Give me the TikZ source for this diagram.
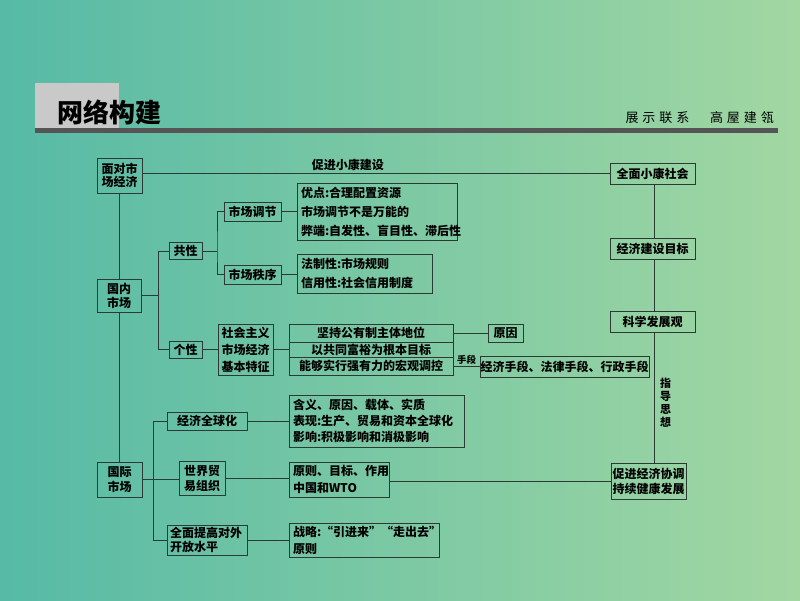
\documentclass[tikz,border=0pt]{standalone}
\usepackage{fontspec}
\setmainfont{Noto Sans CJK SC}
\definecolor{lc}{HTML}{2B3A33}
\definecolor{bgl}{HTML}{56BAA6}
\definecolor{bgr}{HTML}{A2D7A2}
\definecolor{hgray}{HTML}{C9C9C9}
\definecolor{hbar}{HTML}{555555}
\newcommand\myfs[1]{\fontsize{12pt}{#1pt}\selectfont\bfseries}
\tikzset{
  bx/.style={draw=lc, line width=0.9pt, inner sep=0pt, text=black, font=\myfs{14}},
  tbx/.style={bx, align=left, inner xsep=4pt},
  ln/.style={draw=lc, line width=0.9pt},
}
\begin{document}
\begin{tikzpicture}[x=1pt,y=-1pt]
\useasboundingbox (0,0) rectangle (800,600);
\shade[left color=bgl, right color=bgr] (0,0) rectangle (800,600);
% header
\fill[hgray] (35,83) rectangle (119,128);
\fill[hbar] (35,128) rectangle (778,133);
\node[anchor=west, inner sep=0pt, font=\fontsize{26pt}{28pt}\selectfont\bfseries] (title) at (57,112) {网络构建};
\node[anchor=east, inner sep=0pt, font=\fontsize{13pt}{14pt}\selectfont\addfontfeature{LetterSpace=30}] (slogan) at (774,118) {展示联系　高屋建瓴};

% left column
\node[bx, minimum width=45pt, minimum height=35pt, align=center, font=\myfs{13.5}] (mdsc) at (119.5,175.5) {面对市\\场经济};
\node[bx, minimum width=44pt, minimum height=33pt, align=center, font=\myfs{14}] (gnsc) at (119,295.5) {国内\\市场};
\node[bx, minimum width=45pt, minimum height=35pt, align=center, font=\myfs{15}] (gjsc) at (119.5,479.5) {国际\\市场};

% domestic
\node[bx, minimum width=33pt, minimum height=17pt] (gx) at (185.5,251) {共性};
\node[bx, minimum width=33pt, minimum height=17pt] (gex) at (185.5,349.5) {个性};
\node[bx, minimum width=57pt, minimum height=19pt] (tj) at (252.5,211.5) {市场调节};
\node[bx, minimum width=57pt, minimum height=19pt] (zx) at (252.5,274.5) {市场秩序};
\node[tbx, text width=152pt, minimum height=57pt, font=\myfs{19}] (tb1) at (377,211.5) {优点:合理配置资源\\市场调节不是万能的\\弊端:自发性、盲目性、滞后性};
\node[tbx, text width=127pt, minimum height=39pt, font=\myfs{19}] (tb2) at (364.5,273.5) {法制性:市场规则\\信用性:社会信用制度};
\node[bx, minimum width=55pt, minimum height=51pt, align=center, font=\myfs{17}] (tz) at (245.5,349.5) {社会主义\\市场经济\\基本特征};
\node[bx, minimum width=164pt, minimum height=18pt] (r1) at (371,333) {坚持公有制主体地位};
\node[bx, minimum width=164pt, minimum height=15pt] (r2) at (371,349.5) {以共同富裕为根本目标};
\node[bx, minimum width=164pt, minimum height=18pt] (r3) at (371,366) {能够实行强有力的宏观调控};
\node[bx, minimum width=35pt, minimum height=18pt] (yy) at (505.5,333) {原因};
\node[bx, minimum width=169pt, minimum height=21pt] (sd) at (564.5,366.5) {经济手段、法律手段、行政手段};

% international
\node[bx, minimum width=80pt, minimum height=18pt] (qqh) at (207,421) {经济全球化};
\node[bx, minimum width=46pt, minimum height=34pt, align=center, font=\myfs{15}] (wto) at (202,478) {世界贸\\易组织};
\node[tbx, text width=74pt, inner xsep=3pt, minimum height=30pt, font=\myfs{14}] (kf) at (207,540) {全面提高对外\\开放水平};
\node[tbx, text width=167pt, minimum height=52pt, font=\myfs{16}] (tb3) at (376.5,421) {含义、原因、载体、实质\\表现:生产、贸易和资本全球化\\影响:积极影响和消极影响};
\node[tbx, text width=92pt, minimum height=35pt, font=\myfs{17}] (tb4) at (339,479.5) {原则、目标、作用\\中国和WTO};
\node[tbx, text width=142pt, minimum height=34pt, font=\myfs{17}] (tb5) at (364,540) {战略:“引进来”“走出去”\\原则};

% right column
\node[bx, minimum width=85pt, minimum height=21pt] (qm) at (652.5,173.5) {全面小康社会};
\node[bx, minimum width=85pt, minimum height=21pt] (jj) at (652.5,248.5) {经济建设目标};
\node[bx, minimum width=85pt, minimum height=21pt] (kx) at (652.5,321.5) {科学发展观};
\node[bx, minimum width=75pt, minimum height=36pt, align=center, font=\myfs{15}] (cj) at (648.5,481) {促进经济协调\\持续健康发展};
\coordinate (sp) at (654.5,0);
\coordinate (b1) at (158,251);
\coordinate (b2) at (217,251);
\coordinate (b3) at (153,421);

% connectors
\draw[ln] (qm.west -| mdsc.east) -- node[pos=0.44, above=1pt, inner sep=1pt, font=\myfs{14}, text=black] (cjxk) {促进小康建设} (qm.west);
\draw[ln] (mdsc.south -| gnsc.north) -- (gnsc.north);
\draw[ln] (gnsc.south) -- (gjsc.north -| gnsc.south);
\draw[ln] (gx.west) -- (b1) |- (gex.west);
\draw[ln] (gnsc.east) -- (gnsc.east -| b1);
\draw[ln] (gx.east) -- (b2);
\draw[ln] (tj.west) -| (b2) |- (zx.west);
\draw[ln] (tj.east) -- (tb1.west);
\draw[ln] (zx.east) -- (zx.east -| tb2.west);
\draw[ln] (gex.east) -- (tz.west);
\draw[ln] (tz.east) -- (r2.west);
\draw[ln] (r1.east) -- (yy.west);
\draw[ln] (r3.east) -- node[above=0.5pt, inner sep=0.5pt, font=\fontsize{9.5pt}{10pt}\selectfont\bfseries, text=black] (sdl) {手段} (r3.east -| sd.west);
\draw[ln] (qqh.west) -- (b3) |- (kf.west);
\draw[ln] (gjsc.east) -- (gjsc.east -| wto.west);
\draw[ln] (qqh.east) -- (tb3.west);
\draw[ln] (wto.east) -- (wto.east -| tb4.west);
\draw[ln] (kf.east) -- (tb5.west);
\draw[ln] (cj.west -| tb4.east) -- (cj.west);
\draw[ln] (qm.south -| sp) -- (jj.north -| sp);
\draw[ln] (jj.south -| sp) -- (kx.north -| sp);
\draw[ln] (kx.south -| sp) -- (cj.north -| sp);
\node[inner sep=0pt, align=center, font=\fontsize{11pt}{13pt}\selectfont\bfseries] (zdsx) at (665.5,402.5) {指\\导\\思\\想};
\end{tikzpicture}
\end{document}
